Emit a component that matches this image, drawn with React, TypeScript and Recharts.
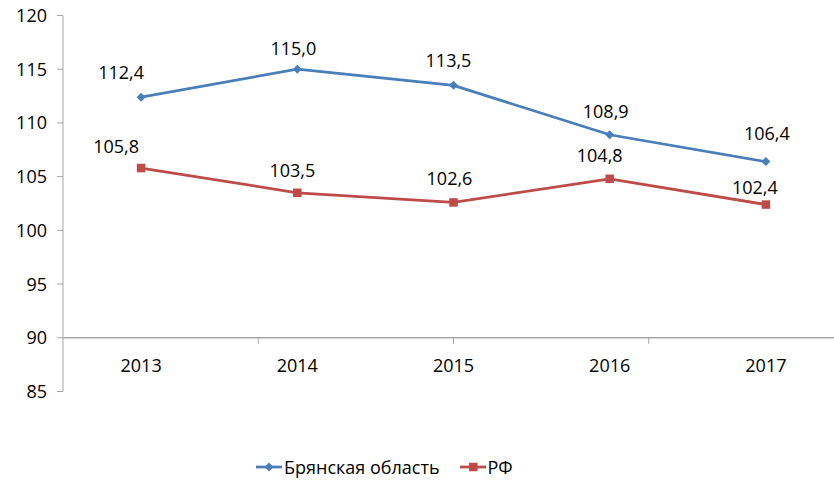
import React from 'react';
import { LineChart, Line, XAxis, YAxis, ReferenceLine, LabelList, Legend } from 'recharts';

const years = ['2013', '2014', '2015', '2016', '2017'];
const bryansk = [112.4, 115.0, 113.5, 108.9, 106.4];
const rf = [105.8, 103.5, 102.6, 104.8, 102.4];
const yTicks = [85, 90, 95, 100, 105, 110, 115, 120];
const seriesNames = ['Брянская область', 'РФ'];
const crossValue = 90;

const data = years.map((y, i) => ({ year: y, bryansk: bryansk[i], rf: rf[i] }));
const boundaries = years.slice(1).map((_, i) => i + 1);

const BLUE = '#4A7EBB';
const RED = '#BE4B48';
const AXIS = '#A6A6A6';
const FONT = '"Open Sans", sans-serif';
const FS = 18;

// label nudges [dx, baseline offset above point]
const blueNudge: [number, number][] = [[-20, 18], [-4, 14], [-5, 18], [-4, 17], [1, 22]];
const redNudge: [number, number][] = [[-25, 15], [-5, 16], [-4, 17], [-10, 17], [-11, 11]];

const fmt = (v: number) => v.toFixed(1).replace('.', ',');

const makeLabel = (nudge: [number, number][]) => (props: any) => {
  const { x, y, value, index } = props;
  if (x == null || y == null) return null;
  const [dx, up] = nudge[index] || [0, 15];
  return (
    <text x={x + dx} y={y - up} textAnchor="middle" fontFamily={FONT} fontSize={FS} fill="#000">
      {fmt(Number(value))}
    </text>
  );
};

const Diamond = (props: any) => {
  const { cx, cy } = props;
  if (cx == null || cy == null) return null;
  const r = 4.5;
  return <path d={`M${cx},${cy - r}L${cx + r},${cy}L${cx},${cy + r}L${cx - r},${cy}Z`} fill={BLUE} />;
};

const Square = (props: any) => {
  const { cx, cy } = props;
  if (cx == null || cy == null) return null;
  const s = 8.5;
  return <rect x={cx - s / 2} y={cy - s / 2} width={s} height={s} fill={RED} />;
};

const XTick = (props: any) => {
  const { x, y, payload } = props;
  return (
    <text x={x} y={y - 19.5} textAnchor="middle" fontFamily={FONT} fontSize={FS} fill="#000">
      {payload.value}
    </text>
  );
};

const YTick = (props: any) => {
  const { x, y, payload } = props;
  return (
    <text x={x - 10} y={y} dy={6.5} textAnchor="end" fontFamily={FONT} fontSize={FS} fill="#000">
      {payload.value}
    </text>
  );
};

const LegendContent = () => (
  <div
    style={{
      display: 'flex',
      alignItems: 'center',
      height: 26,
      paddingLeft: 256,
      fontFamily: FONT,
      fontSize: FS,
      color: '#000',
    }}
  >
    <svg width={26} height={12} style={{ display: 'block' }}>
      <line x1={0} y1={6} x2={26} y2={6} stroke={BLUE} strokeWidth={2.75} />
      <path d="M13,1.5L17.5,6L13,10.5L8.5,6Z" fill={BLUE} />
    </svg>
    <span style={{ marginLeft: 2 }}>{seriesNames[0]}</span>
    <svg width={26} height={12} style={{ display: 'block', marginLeft: 20 }}>
      <line x1={0} y1={6} x2={26} y2={6} stroke={RED} strokeWidth={2.75} />
      <rect x={9} y={1.75} width={8.5} height={8.5} fill={RED} />
    </svg>
    <span style={{ marginLeft: 2 }}>{seriesNames[1]}</span>
  </div>
);

export default function App() {
  return (
    <div style={{ position: 'absolute', left: 0, top: 0, width: 834, height: 480, overflow: 'hidden', background: '#fff' }}>
      <LineChart width={852} height={480} data={data} margin={{ top: 15.5, right: 8, left: 0, bottom: 0 }}>
        <YAxis
          domain={[85, 120]}
          ticks={yTicks}
          interval={0}
          width={63}
          tickSize={6}
          tickMargin={0}
          stroke={AXIS}
          tick={<YTick />}
          axisLine={{ stroke: AXIS }}
          tickLine={{ stroke: AXIS }}
        />
        <XAxis
          dataKey="year"
          scale="band"
          height={62.5}
          axisLine={false}
          tickLine={false}
          tickSize={0}
          tickMargin={0}
          interval={0}
          tick={<XTick />}
        />
        <XAxis xAxisId="idx" type="number" domain={[0, 5]} hide />
        <ReferenceLine y={crossValue} stroke={AXIS} strokeWidth={1.5} />
        {boundaries.map((b) => (
          <ReferenceLine
            key={b}
            xAxisId="idx"
            segment={[{ x: b, y: crossValue }, { x: b, y: crossValue - 0.56 }]}
            stroke={AXIS}
            strokeWidth={1}
          />
        ))}
        <Line
          type="linear"
          dataKey="bryansk"
          name={seriesNames[0]}
          stroke={BLUE}
          strokeWidth={2.75}
          dot={<Diamond />}
          activeDot={false}
          isAnimationActive={false}
        >
          <LabelList dataKey="bryansk" content={makeLabel(blueNudge)} />
        </Line>
        <Line
          type="linear"
          dataKey="rf"
          name={seriesNames[1]}
          stroke={RED}
          strokeWidth={2.75}
          dot={<Square />}
          activeDot={false}
          isAnimationActive={false}
        >
          <LabelList dataKey="rf" content={makeLabel(redNudge)} />
        </Line>
        <Legend verticalAlign="bottom" content={<LegendContent />} />
      </LineChart>
    </div>
  );
}
